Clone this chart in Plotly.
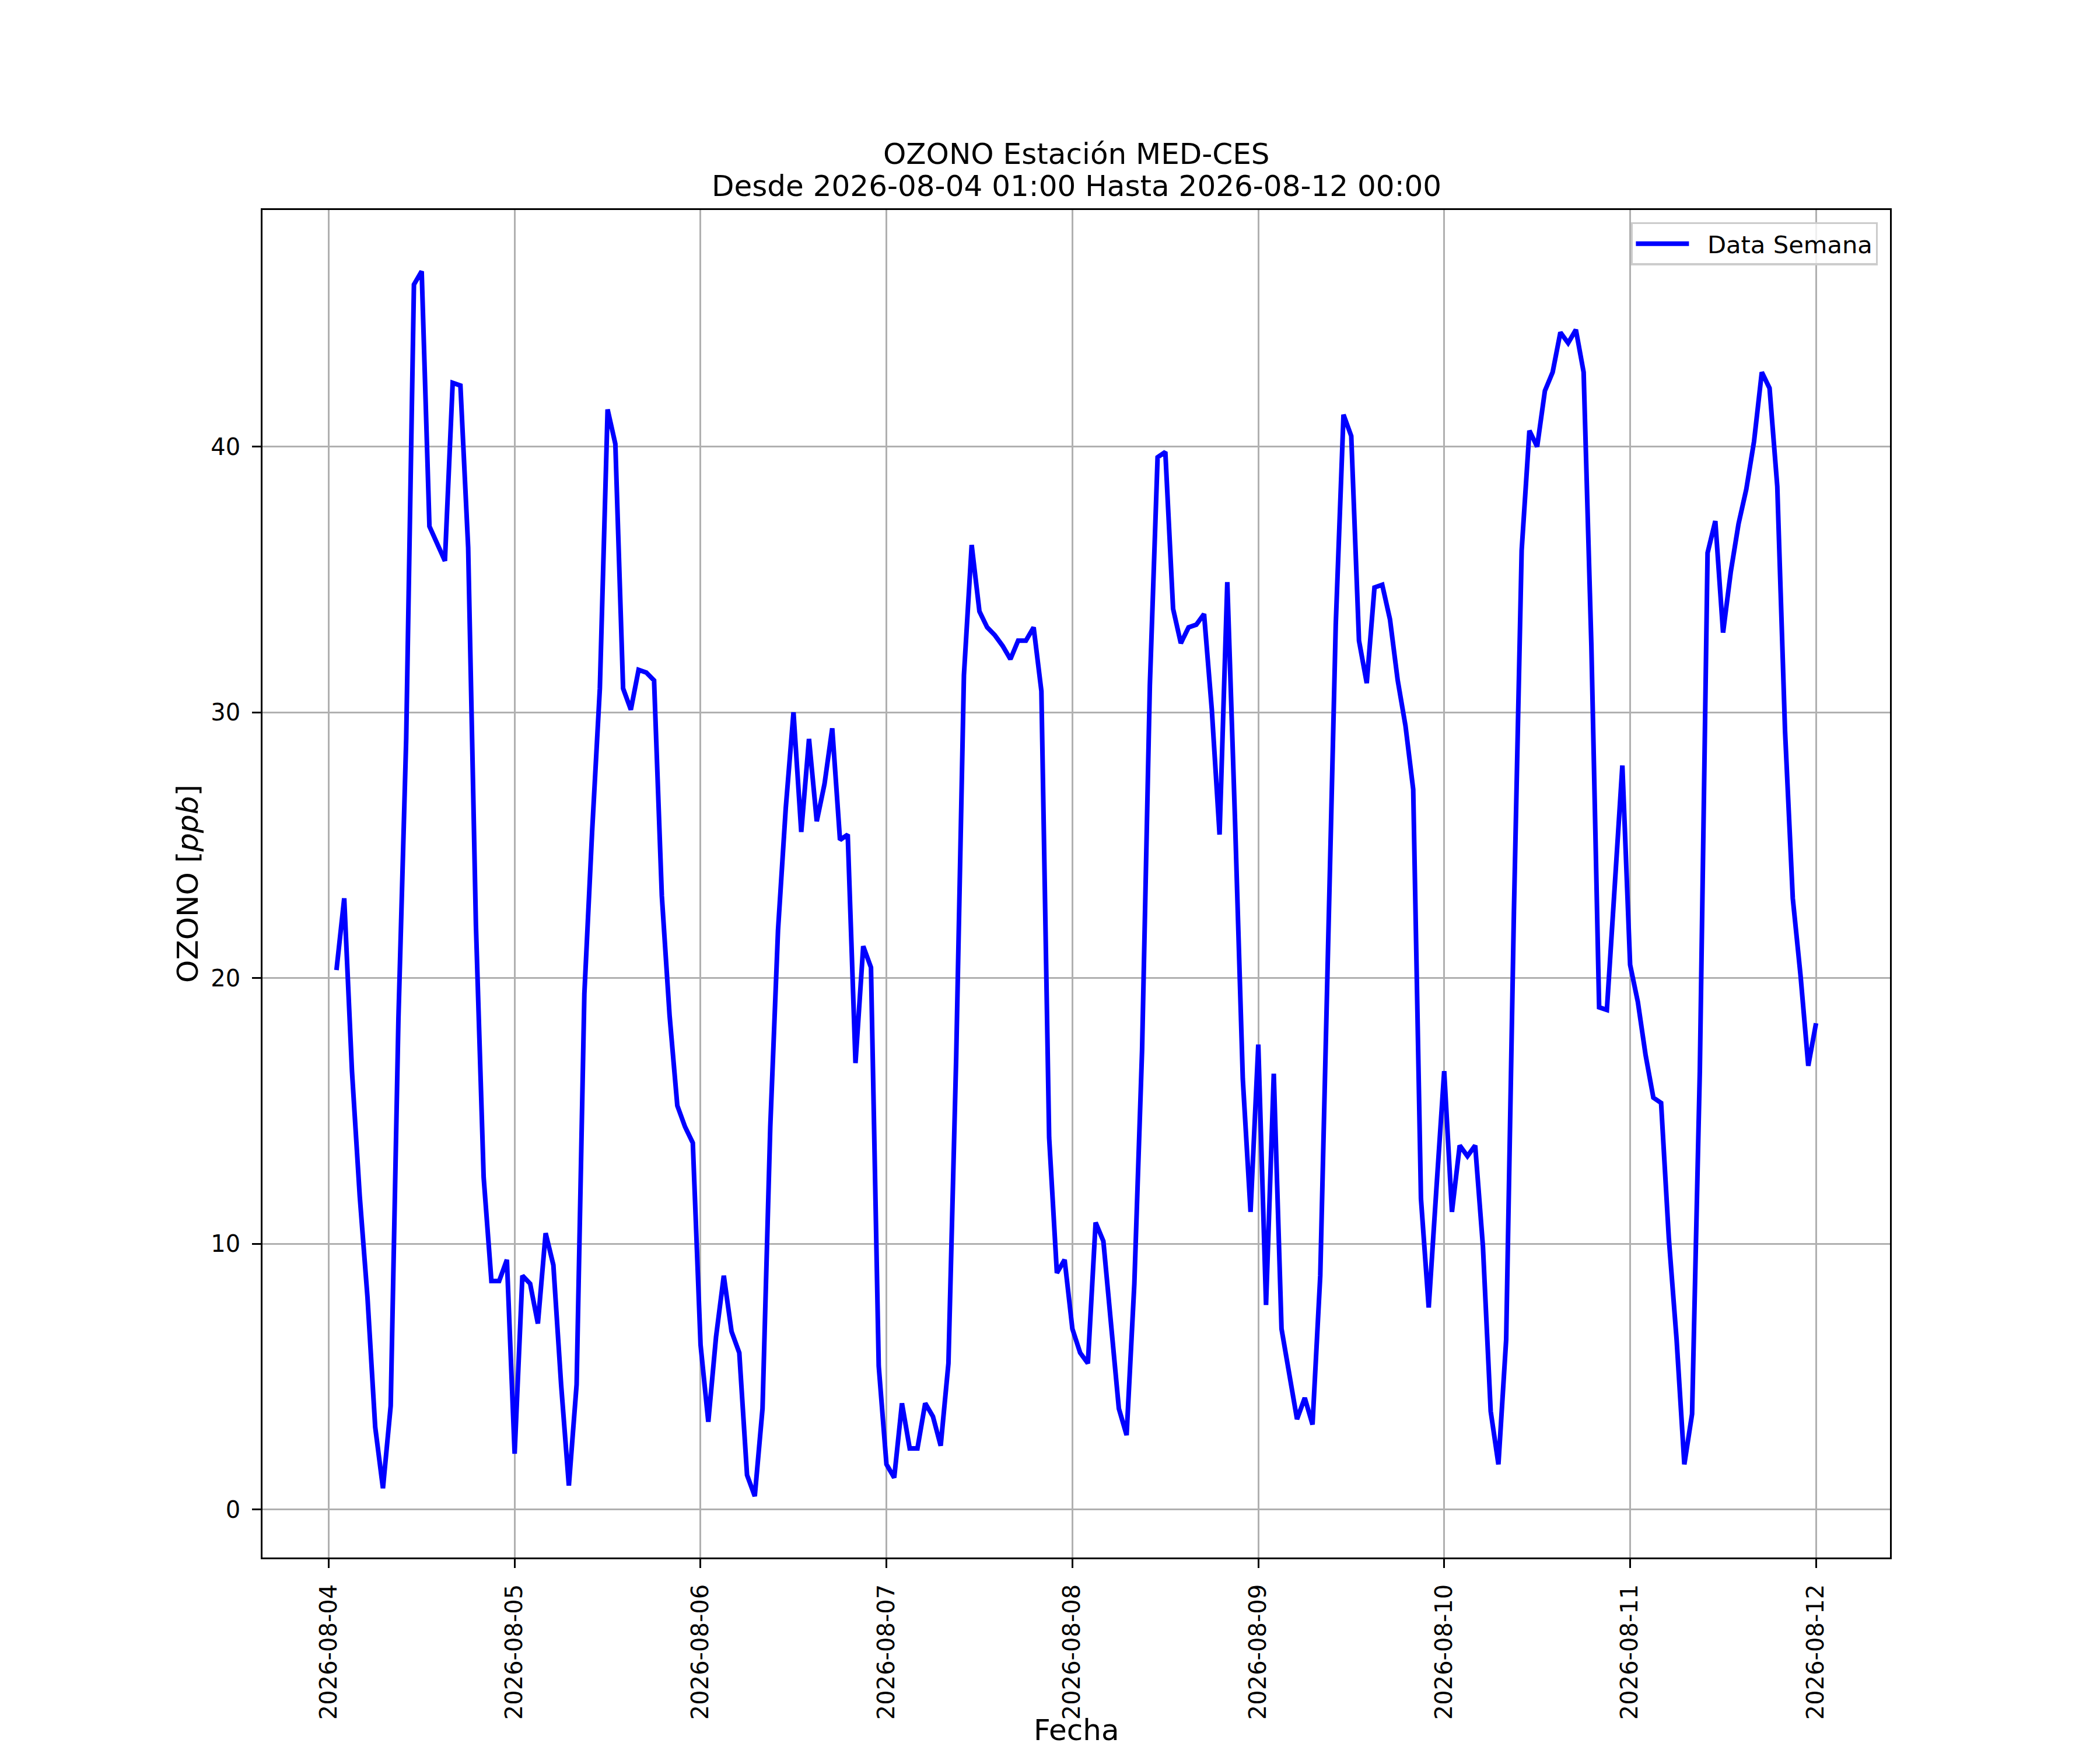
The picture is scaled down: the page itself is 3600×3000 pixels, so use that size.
import pandas as pd
import plotly.graph_objects as go

# hourly ozone readings, one list per day (01:00 ... 24:00)
dia_04 = [20.3, 23.0, 16.5, 11.8, 8.0, 3.1, 0.8, 3.9, 18.5, 29.0, 46.1, 46.6,
          37.0, 36.4, 35.7, 42.4, 42.3, 36.2, 22.0, 12.5, 8.6, 8.6, 9.4, 2.1]
dia_05 = [8.8, 8.5, 7.0, 10.4, 9.2, 4.7, 0.9, 4.7, 19.4, 25.5, 30.9, 41.4,
          40.1, 30.9, 30.1, 31.6, 31.5, 31.2, 23.1, 18.6, 15.2, 14.4, 13.8, 6.2]
dia_06 = [3.3, 6.5, 8.8, 6.7, 5.9, 1.3, 0.5, 3.8, 14.4, 21.8, 26.4, 30.0,
          25.5, 29.0, 25.9, 27.3, 29.4, 25.2, 25.4, 16.8, 21.2, 20.4, 5.4, 1.7]
dia_07 = [1.2, 4.0, 2.3, 2.3, 4.0, 3.5, 2.4, 5.5, 17.0, 31.4, 36.3, 33.8,
          33.2, 32.9, 32.5, 32.0, 32.7, 32.7, 33.2, 30.8, 14.0, 8.9, 9.4, 6.8]
dia_08 = [5.9, 5.5, 10.8, 10.1, 6.9, 3.8, 2.8, 8.5, 17.3, 31.0, 39.6, 39.8,
          33.9, 32.6, 33.2, 33.3, 33.7, 30.1, 25.4, 34.9, 25.9, 16.2, 11.2, 17.5]
dia_09 = [7.7, 16.4, 6.8, 5.1, 3.4, 4.2, 3.2, 8.8, 21.0, 33.3, 41.2, 40.4,
          32.7, 31.1, 34.7, 34.8, 33.5, 31.2, 29.5, 27.1, 11.7, 7.6, 12.1, 16.5]
dia_10 = [11.2, 13.7, 13.3, 13.7, 9.9, 3.7, 1.7, 6.4, 22.5, 36.1, 40.6, 40.0,
          42.1, 42.8, 44.3, 43.9, 44.4, 42.8, 32.5, 18.9, 18.8, 23.5, 28.0, 20.5]
dia_11 = [19.1, 17.1, 15.5, 15.3, 10.2, 6.4, 1.7, 3.6, 16.5, 36.0, 37.2, 33.0,
          35.3, 37.1, 38.4, 40.2, 42.8, 42.2, 38.5, 29.3, 23.0, 20.1, 16.7, 18.3]

ozono = dia_04 + dia_05 + dia_06 + dia_07 + dia_08 + dia_09 + dia_10 + dia_11
fechas = pd.date_range('2026-08-04 01:00', periods=len(ozono), freq='h')

titulo_1 = 'OZONO Estación MED-CES'
titulo_2 = 'Desde 2026-08-04 01:00 Hasta 2026-08-12 00:00'

# matplotlib-like 5% margins
dx = (fechas[-1] - fechas[0]) * 0.05
dy = (max(ozono) - min(ozono)) * 0.05

fig = go.Figure()
fig.add_trace(go.Scatter(
    x=fechas,
    y=ozono,
    mode='lines',
    name='\u00a0\u00a0Data Semana',
    line=dict(color='blue', width=8)
    )
)

eje = dict(
    showline=True, mirror=True, linecolor='black', linewidth=3.3,
    ticks='outside', ticklen=14.6, tickwidth=3.3, tickcolor='black',
    showgrid=True, gridcolor='#b0b0b0', gridwidth=3.3,
    zeroline=False, tickfont=dict(size=40, color='black'),
    ticklabelstandoff=12, automargin=False,
)

# page has an 8px body margin, so the figure is 8px smaller each way
fig.update_layout(
    width=3592,
    height=2992,
    autosize=False,
    margin=dict(l=442, r=360, t=352, b=330),
    paper_bgcolor='white',
    plot_bgcolor='white',
    font=dict(family='DejaVu Sans', color='black'),
    showlegend=True,
    legend=dict(x=0.9925, y=0.991, xanchor='right', yanchor='top',
                bgcolor='rgba(255,255,255,0.8)', bordercolor='#cccccc',
                borderwidth=3.3, font=dict(size=41.7), itemwidth=91),
)

# title lines and axis labels as annotations
textos = [
    dict(text=titulo_1, x=0.5, y=1.0416, textangle=0),
    dict(text=titulo_2, x=0.5, y=1.0177, textangle=0),
    dict(text='Fecha', x=0.5, y=-0.128, textangle=0),
    dict(text='OZONO [<i>ppb</i>]', x=-0.0459, y=0.5, textangle=-90),
]
for t in textos:
    fig.add_annotation(xref='paper', yref='paper', xanchor='center',
                       yanchor='middle', showarrow=False,
                       font=dict(size=50), **t)

fig.update_xaxes(eje)
fig.update_xaxes(
    range=[fechas[0] - dx, fechas[-1] + dx],
    tick0='2026-08-04', dtick=86400000, tickformat='%Y-%m-%d', tickangle=-90,
)
fig.update_yaxes(eje)
fig.update_yaxes(
    range=[min(ozono) - dy, max(ozono) + dy],
    tick0=0, dtick=10,
)

fig.write_html("out.html")
